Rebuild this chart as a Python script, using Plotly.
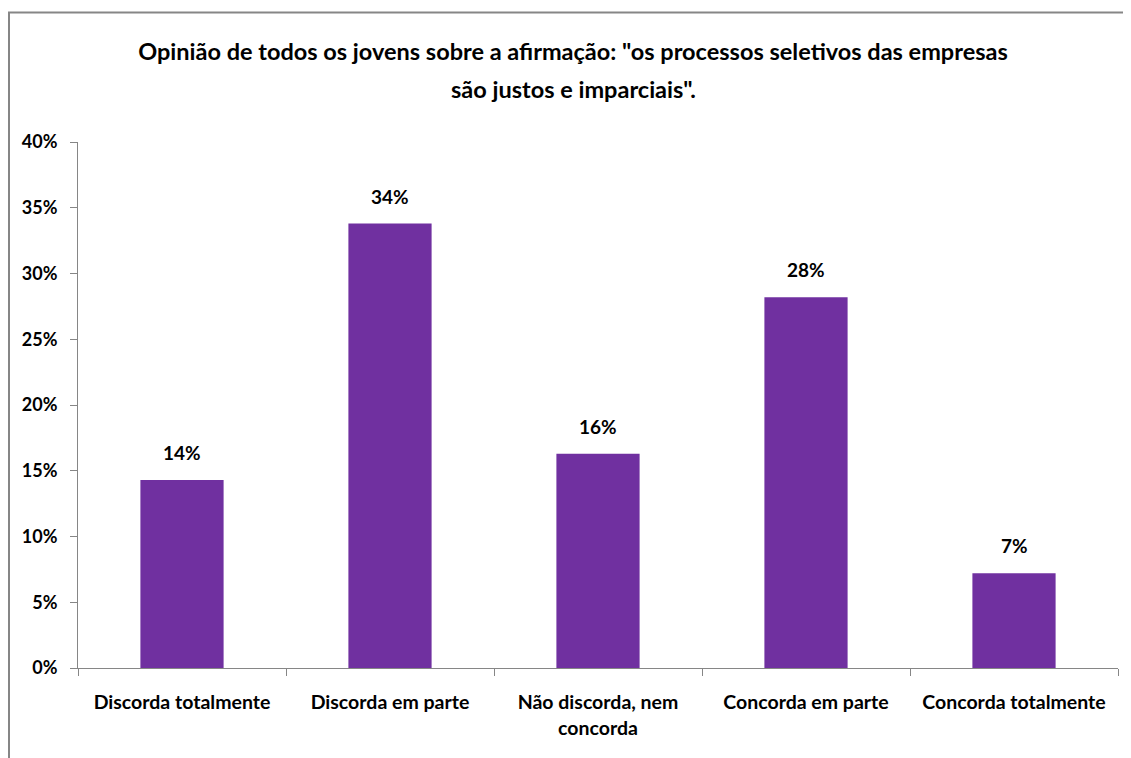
import plotly.graph_objects as go

categories = ["Discorda totalmente", "Discorda em parte", "Não discorda, nem<br>concorda",
              "Concorda em parte", "Concorda totalmente"]
values = [0.143, 0.338, 0.163, 0.282, 0.072]
labels = ["14%", "34%", "16%", "28%", "7%"]

title_line1 = "Opinião de todos os jovens sobre a afirmação: \"os processos seletivos das empresas"
title_line2 = "são justos e imparciais\"."

FONT = "Lato, sans-serif"
AXIS_COLOR = "#868686"

# page has an 8px body offset; figure coordinates below are page coords minus 8
L, R, T, B = 70, 1110, 133.5, 660
W, H = 1131, 758

fig = go.Figure()
fig.add_trace(go.Bar(
    x=categories, y=values,
    marker=dict(color="#7030A0", line=dict(width=0)),
    width=0.4,
    hoverinfo="skip",
))

for c, v, t in zip(categories, values, labels):
    fig.add_annotation(x=c, y=v, text=f"<b>{t}</b>", showarrow=False,
                       yanchor="bottom", yshift=14,
                       font=dict(family=FONT, size=19, color="#000000"))

fig.update_layout(
    width=W, height=H,
    margin=dict(l=L, r=W-R, t=T, b=H-B),
    paper_bgcolor="white", plot_bgcolor="white",
    showlegend=False,
    title=dict(text=f"<b>{title_line1}</b>", x=(573-8)/W, xref="container", xanchor="center",
               y=1-(52-8)/H, yref="container", yanchor="middle",
               font=dict(family=FONT, size=23.5, color="#000000")),
    font=dict(family=FONT, color="#000000"),
)
pw, ph = R - L, B - T
fig.add_annotation(text=f"<b>{title_line2}</b>", showarrow=False,
                   xref="paper", yref="paper",
                   x=(573 - 8 - L) / pw, y=1 + (T - (88 - 8)) / ph,
                   xanchor="center", yanchor="middle",
                   font=dict(family=FONT, size=23.5, color="#000000"))

fig.update_xaxes(
    showline=True, linecolor=AXIS_COLOR, linewidth=1,
    ticks="outside", ticklen=7, tickcolor=AXIS_COLOR, tickson="boundaries",
    tickfont=dict(family=FONT, size=19.5, color="#000000"),
    ticklabelstandoff=17,
    showgrid=False, zeroline=False,
    tickprefix="<b>", ticksuffix="</b>",
)
fig.update_yaxes(
    range=[0, 0.4], dtick=0.05, tickformat=".0%",
    showline=True, linecolor=AXIS_COLOR, linewidth=1,
    ticks="outside", ticklen=7, tickcolor=AXIS_COLOR,
    tickfont=dict(family=FONT, size=18, color="#000000"),
    ticklabelstandoff=9,
    showgrid=False, zeroline=False,
    tickprefix="<b>", ticksuffix="</b>",
)

# chart border (outer frame)
fig.add_shape(type="rect", xref="paper", yref="paper",
              x0=(0 - L) / pw + 1/pw, x1=1.05, y0=-0.3, y1=1 + (T - 4) / ph,
              line=dict(color=AXIS_COLOR, width=2), fillcolor="rgba(0,0,0,0)", layer="below")

fig.write_html("out.html")
